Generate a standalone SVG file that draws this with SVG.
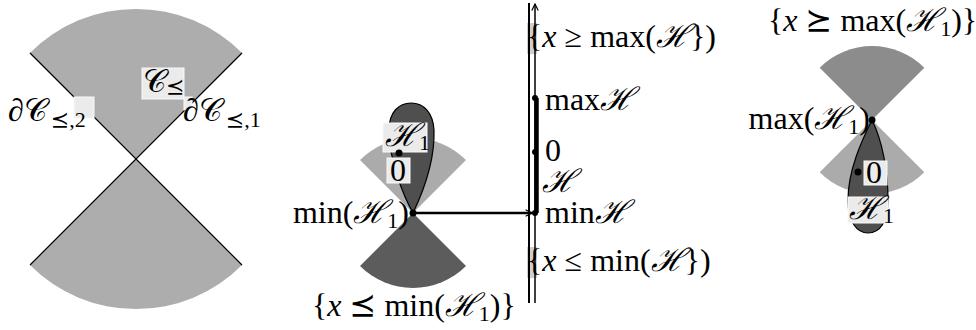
<svg xmlns="http://www.w3.org/2000/svg" width="976" height="330" viewBox="0 0 976 330">
<defs>
<style>
.t{font-family:"Liberation Serif","DejaVu Serif",serif;font-size:32px;fill:#000}
.s{font-size:22px}
.h{font-family:"DejaVu Serif",serif;font-style:italic}
.r{font-family:"DejaVu Serif","DejaVu Sans",serif;font-weight:normal}
.i{font-style:italic}
.box{fill:#ebebeb;stroke:#fafafa;stroke-width:1}
.gbox{fill:#cfcfcf}
.edge{stroke:#000;stroke-width:1.2;fill:none}
.dot{fill:#000}
</style>
<marker id="ah" viewBox="0 0 10 10" refX="9" refY="5" markerWidth="8" markerHeight="8" orient="auto" markerUnits="userSpaceOnUse">
<path d="M1,1 L9,5 L1,9" fill="none" stroke="#000" stroke-width="1.5"/>
</marker>
</defs>
<rect width="976" height="330" fill="#fff"/>

<g id="cone-left">
<path d="M136,159 L29.9,52.9 A150,150 0 0 1 242.1,52.9 Z" fill="#adadad"/>
<path d="M136,159 L242.1,265.1 A150,150 0 0 1 29.9,265.1 Z" fill="#adadad"/>
<line class="edge" x1="30" y1="53" x2="242" y2="265"/>
<line class="edge" x1="242" y1="53" x2="30" y2="265"/>
<rect class="box" x="142" y="68" width="42" height="31"/>
<rect class="box" x="74" y="97" width="20" height="21"/>
<rect class="box" x="184" y="97" width="8" height="13"/>
<text class="t" x="143" y="92">𝒞<tspan class="s r" dy="2">⪯</tspan></text>
<text class="t" x="8" y="121">∂𝒞<tspan class="s" dx="4" dy="6"><tspan class="r">⪯</tspan>,2</tspan></text>
<text class="t" x="183" y="121">∂𝒞<tspan class="s" dx="4" dy="6"><tspan class="r">⪯</tspan>,1</tspan></text>
</g>

<g id="cone-mid">
<path d="M413,213 L360,160 A75,75 0 0 1 466,160 Z" fill="#ababab"/>
<path d="M413,213 L466,266 A75,75 0 0 1 360,266 Z" fill="#5c5c5c"/>
<path d="M413,213 C403,195 389,160 389,130 C389,112 399,103 411,103 C424,103 433,113 434,130 C435,160 424,190 413,213 Z" fill="#4f4f4f" stroke="#000" stroke-width="1.2"/>
<rect class="box" x="383" y="123" width="44" height="29"/>
<text class="t" x="385" y="146" font-size="28"><tspan class="h">ℋ</tspan><tspan class="s" dy="4">1</tspan></text>
<circle class="dot" cx="399" cy="153" r="3.5"/>
<rect class="box" x="387" y="158" width="23" height="25"/>
<text class="t" x="390" y="181">0</text>
<circle class="dot" cx="413" cy="213" r="3.5"/>
<text class="t" x="409" y="223" text-anchor="end">min(<tspan class="h">ℋ</tspan><tspan class="s" dy="5">1</tspan><tspan dy="-5">)</tspan></text>
<text class="t" x="312" y="316">{<tspan class="i">x</tspan> <tspan class="r">⪯</tspan> min(<tspan class="h">ℋ</tspan><tspan class="s" dy="5">1</tspan><tspan dy="-5">)}</tspan></text>
</g>

<g id="axis">
<rect class="gbox" x="527" y="23" width="10" height="31"/>
<rect class="gbox" x="527" y="247" width="10" height="31"/>
<line x1="529" y1="3" x2="529" y2="303" stroke="#000" stroke-width="2"/>
<line x1="535" y1="303" x2="535" y2="4" stroke="#000" stroke-width="1.5" marker-end="url(#ah)"/>
<line x1="536.5" y1="98" x2="536.5" y2="213" stroke="#000" stroke-width="4.5"/>
<circle class="dot" cx="535" cy="98" r="3"/>
<circle class="dot" cx="535" cy="152" r="3"/>
<circle class="dot" cx="535" cy="213" r="3"/>
<text class="t" x="527" y="47">{<tspan class="i">x</tspan> ≥ max(<tspan class="h">ℋ</tspan>})</text>
<text class="t" x="545" y="110">max<tspan class="h">ℋ</tspan></text>
<text class="t" x="545" y="161" font-size="30">0</text>
<text class="t h" x="542" y="192" font-size="20">ℋ</text>
<text class="t" x="545" y="223">min<tspan class="h">ℋ</tspan></text>
<text class="t" x="527" y="271">{<tspan class="i">x</tspan> ≤ min(<tspan class="h">ℋ</tspan>})</text>
</g>

<g id="cone-right">
<path d="M872,120 L819.7,67.7 A74,74 0 0 1 924.3,67.7 Z" fill="#8c8c8c"/>
<path d="M872,120 L924.3,172.3 A74,74 0 0 1 819.7,172.3 Z" fill="#ababab"/>
<path d="M872,120 C862,140 848,170 848,200 C848,222 857,233 868,233 C880,233 888,222 888,200 C888,170 882,140 872,120 Z" fill="#4f4f4f" stroke="#000" stroke-width="1.2"/>
<rect class="box" x="864" y="161" width="23" height="24"/>
<text class="t" x="866" y="183">0</text>
<circle class="dot" cx="858" cy="172" r="3.5"/>
<rect class="box" x="848" y="197" width="40" height="26" fill="#dcdcdc"/>
<text class="t" x="849" y="219" font-size="26"><tspan class="h">ℋ</tspan><tspan class="s" dy="4">1</tspan></text>
<circle class="dot" cx="872" cy="120" r="3.5"/>
<text class="t" x="870" y="129" text-anchor="end">max(<tspan class="h">ℋ</tspan><tspan class="s" dy="5">1</tspan><tspan dy="-5">)</tspan></text>
<text class="t" x="768" y="31" font-size="31">{<tspan class="i">x</tspan> <tspan class="r">⪰</tspan> max(<tspan class="h">ℋ</tspan><tspan class="s" dy="5">1</tspan><tspan dy="-5">)}</tspan></text>
</g>

<g id="connectors">
<line x1="413" y1="213" x2="532" y2="213" stroke="#000" stroke-width="2.5" marker-end="url(#ah)"/>
</g>
</svg>
